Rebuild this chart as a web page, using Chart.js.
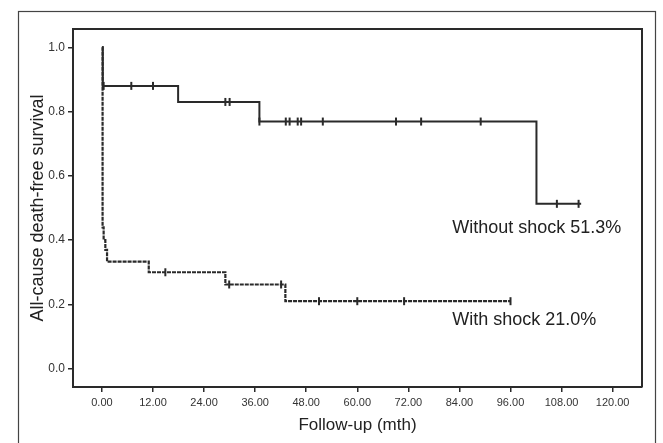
<!DOCTYPE html>
<html><head><meta charset="utf-8">
<script src="https://cdn.jsdelivr.net/npm/chart.js@4"></script>
<style>html,body{margin:0;padding:0;background:#fff;}</style>
</head><body>
<canvas id="c" width="663" height="443"></canvas>
<script>
// ---- data ----
const xTickValues = [0, 12, 24, 36, 48, 60, 72, 84, 96, 108, 120];
const yTickValues = [0.0, 0.2, 0.4, 0.6, 0.8, 1.0];
const withoutShockTimes = [0, 0.2, 17.9, 37.0, 102.1, 112.6];
const withoutShockSurvival = [1.0, 0.88, 0.83, 0.769, 0.513, 0.513];
const withoutShockCensored = [0.4, 6.9, 12.0, 29.0, 30.0, 37.0, 43.2, 44.1, 46.0, 46.8, 51.9, 69.1, 75.0, 89.0, 106.9, 112.0];
const withShockTimes = [0, 0.15, 0.4, 0.8, 1.2, 11.0, 29.0, 43.1, 96.0];
const withShockSurvival = [1.0, 0.44, 0.40, 0.37, 0.333, 0.30, 0.262, 0.21, 0.21];
const withShockCensored = [14.9, 29.9, 42.1, 51.0, 60.0, 71.0, 96.0];
const curveLabels = ['Without shock 51.3%', 'With shock 21.0%'];
const xTitle = 'Follow-up (mth)';
const yTitle = 'All-cause death-free survival';

// ---- helpers ----
function toPoints(ts, ss) { return ts.map((t, i) => ({x: t, y: ss[i]})); }
function survivalAt(ts, ss, t) {
  let v = ss[0];
  for (let i = 0; i < ts.length; i++) { if (ts[i] <= t) v = ss[i]; }
  return v;
}
function censorPoints(cs, ts, ss) { return cs.map(t => ({x: t, y: survivalAt(ts, ss, t)})); }

const INK = '#2a2a2a';
const FONT = '"Liberation Sans", Arial, sans-serif';

const framePlugin = {
  id: 'frame',
  beforeDraw(chart) {
    const ctx = chart.ctx;
    ctx.save();
    ctx.strokeStyle = '#444';
    ctx.lineWidth = 1.2;
    ctx.strokeRect(18.5, 11.5, 637, 460);
    ctx.restore();
  },
  afterDatasetsDraw(chart) {
    const {ctx, chartArea: a} = chart;
    ctx.save();
    ctx.strokeStyle = INK;
    ctx.lineWidth = 2;
    ctx.beginPath();
    ctx.moveTo(a.left, a.top);
    ctx.lineTo(a.right, a.top);
    ctx.lineTo(a.right, a.bottom);
    ctx.stroke();
    ctx.restore();
  }
};

const labelPlugin = {
  id: 'curveLabels',
  afterDraw(chart, args, opts) {
    const {ctx, scales: {x, y}} = chart;
    ctx.save();
    ctx.fillStyle = '#222';
    ctx.font = '18px ' + FONT;
    ctx.textBaseline = 'alphabetic';
    ctx.textAlign = 'left';
    opts.items.forEach((it, i) => {
      ctx.fillText(curveLabels[i], x.getPixelForValue(it.x), y.getPixelForValue(it.y));
    });
    ctx.restore();
  }
};

new Chart(document.getElementById('c'), {
  type: 'line',
  data: {
    datasets: [
      {
        data: toPoints(withoutShockTimes, withoutShockSurvival),
        stepped: true, borderColor: INK, borderWidth: 2, pointRadius: 0, fill: false
      },
      {
        data: toPoints(withShockTimes, withShockSurvival),
        stepped: true, borderColor: '#2a2a2a', borderWidth: 2.2, borderDash: [4, 1], pointRadius: 0, fill: false
      },
      {
        type: 'scatter',
        data: censorPoints(withoutShockCensored, withoutShockTimes, withoutShockSurvival),
        pointStyle: 'line', rotation: 90, pointRadius: 4, borderColor: INK, borderWidth: 2, showLine: false
      },
      {
        type: 'scatter',
        data: censorPoints(withShockCensored, withShockTimes, withShockSurvival),
        pointStyle: 'line', rotation: 90, pointRadius: 4, borderColor: INK, borderWidth: 2, showLine: false
      }
    ]
  },
  options: {
    responsive: false,
    animation: false,
    devicePixelRatio: 1,
    layout: {padding: {left: 0, top: 29, right: 21, bottom: 0}},
    plugins: {
      legend: {display: false},
      tooltip: {enabled: false},
      curveLabels: {items: [{x: 82.3, y: 0.423}, {x: 82.3, y: 0.137}]}
    },
    scales: {
      x: {
        type: 'linear', min: -6.8, max: 126.9,
        afterBuildTicks(s) { s.ticks = xTickValues.map(v => ({value: v})); },
        afterFit(s) { s.height = 56; },
        ticks: {
          callback: v => Number(v).toFixed(2), color: '#333', padding: 4,
          maxRotation: 0, autoSkip: false,
          font: {family: FONT, size: 11}
        },
        grid: {drawOnChartArea: false, drawTicks: true, tickLength: 5, color: INK, lineWidth: 1.5},
        border: {display: true, color: INK, width: 2},
        title: {
          display: true, text: xTitle, color: '#222',
          font: {family: FONT, size: 17, lineHeight: 1},
          padding: {top: 0, bottom: 9.5}
        }
      },
      y: {
        type: 'linear', min: -0.057, max: 1.057,
        afterBuildTicks(s) { s.ticks = yTickValues.map(v => ({value: v})); },
        afterFit(s) { s.width = 73; },
        ticks: {
          callback: v => Number(v).toFixed(1), color: '#333', padding: 3,
          autoSkip: false, font: {family: FONT, size: 12}
        },
        grid: {drawOnChartArea: false, drawTicks: true, tickLength: 5, color: INK, lineWidth: 1.5},
        border: {display: true, color: INK, width: 2},
        title: {
          display: true, text: yTitle, color: '#222',
          font: {family: FONT, size: 18, lineHeight: 1},
          padding: {top: 29, bottom: 0}
        }
      }
    }
  },
  plugins: [framePlugin, labelPlugin]
});
</script>
</body></html>
